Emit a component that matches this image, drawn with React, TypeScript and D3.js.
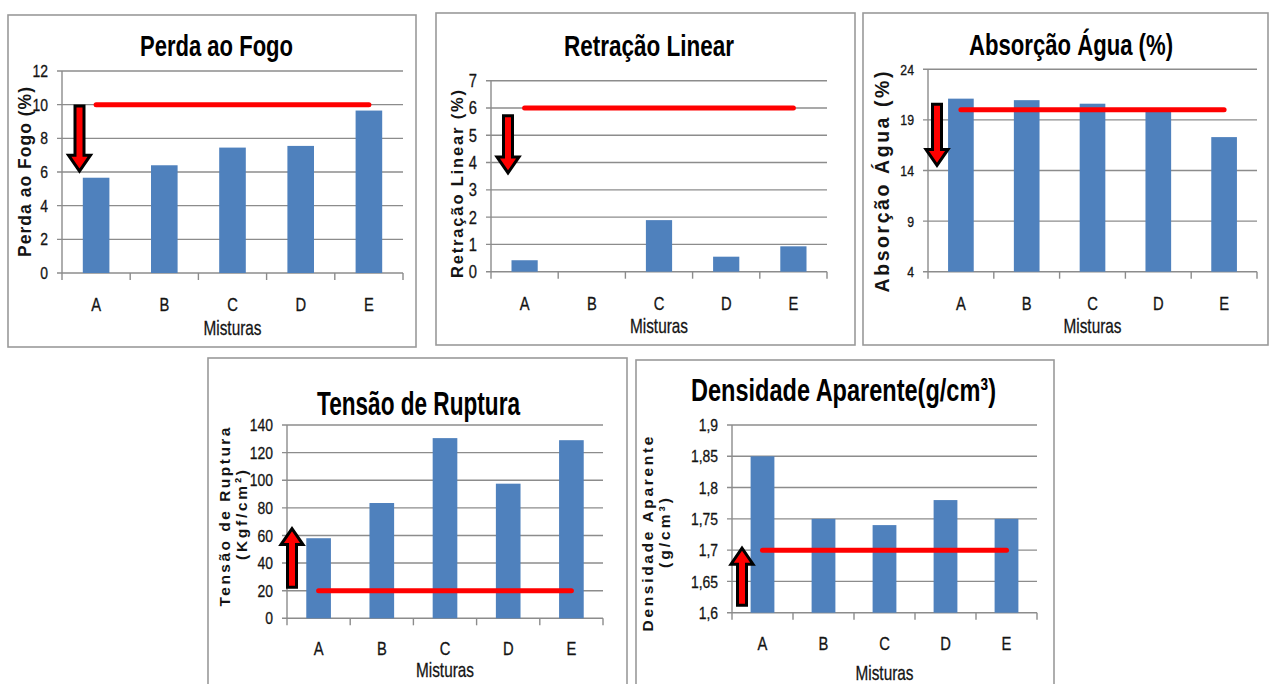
import React from 'react';
import * as d3 from 'd3';

// ---------- data ----------
const categories = ['A', 'B', 'C', 'D', 'E'];
const perdaFogo = [5.66, 6.4, 7.45, 7.55, 9.65];
const retracaoLinear = [0.42, 0, 1.89, 0.55, 0.93];
const absorcaoAgua = [21.1, 20.95, 20.6, 20.1, 17.3];
const tensaoRuptura = [58, 83.5, 130.5, 97.5, 129];
const densidadeAparente = [1.85, 1.75, 1.74, 1.78, 1.75];

const perdaTicks = [0, 2, 4, 6, 8, 10, 12];
const retracaoTicks = [0, 1, 2, 3, 4, 5, 6, 7];
const absorcaoTicks = [4, 9, 14, 19, 24];
const tensaoTicks = [0, 20, 40, 60, 80, 100, 120, 140];
const densidadeTicks = [1.6, 1.65, 1.7, 1.75, 1.8, 1.85, 1.9];

const limitValues = [10, 6, 20, 20, 1.7];
const arrowFrom = [9.92, 5.72, 20.55, 22.5, 1.612];
const arrowTo = [6.05, 3.62, 14.5, 65, 1.703];

const chartTitles = ['Perda ao Fogo', 'Retração Linear', 'Absorção Água (%)', 'Tensão de Ruptura', 'Densidade Aparente(g/cm³)'];
const yAxisTitles = [
  ['Perda ao  Fogo  (%)'],
  ['Retração  Linear  (%)'],
  ['Absorção Água (%)'],
  ['Tensão  de  Ruptura', '(Kgf/cm²)'],
  ['Densidade  Aparente', '(g/cm³)'],
];
const xAxisTitle = 'Misturas';

// ---------- layout ----------
const FONT = "'Liberation Sans', Arial, sans-serif";
const BLUE = '#4f81bd';
const GRID = '#8c8c8c';
const TXT = '#141414';

type Panel = {
  values: number[];
  ticks: number[];
  limit: number;
  aFrom: number;
  aTo: number;
  title: string;
  yTitle: string[];
  box: [number, number, number, number];
  plot: { x0: number; x1: number; yTop: number; yBot: number };
  titleX: number; titleY: number; titleW: number; titleSize: number;
  tickSize: number;
  arrowDx: number;
  yTitleX: number[]; yTitleLen: number[]; yTitleSize: number; yTitleCY: number[];
  catY: number; mistY: number;
  fmt: (v: number) => string;
};

const plain = (v: number) => String(v);
const comma = (v: number) => String(v).replace('.', ',');

const panels: Panel[] = [
  {
    values: perdaFogo, ticks: perdaTicks, limit: limitValues[0], aFrom: arrowFrom[0], aTo: arrowTo[0],
    title: chartTitles[0], yTitle: yAxisTitles[0],
    box: [8, 15, 416, 347], plot: { x0: 62, x1: 403, yTop: 71, yBot: 273 },
    titleX: 216.5, titleY: 56, titleW: 153, titleSize: 30, tickSize: 17, arrowDx: 17.5,
    yTitleX: [30.5], yTitleLen: [170], yTitleSize: 17.5, yTitleCY: [172],
    catY: 311, mistY: 335, fmt: plain,
  },
  {
    values: retracaoLinear, ticks: retracaoTicks, limit: limitValues[1], aFrom: arrowFrom[1], aTo: arrowTo[1],
    title: chartTitles[1], yTitle: yAxisTitles[1],
    box: [436, 13, 855, 345], plot: { x0: 491, x1: 827, yTop: 80.7, yBot: 271.7 },
    titleX: 649, titleY: 56, titleW: 170, titleSize: 30, tickSize: 18, arrowDx: 17,
    yTitleX: [463], yTitleLen: [188], yTitleSize: 16.5, yTitleCY: [184],
    catY: 310, mistY: 333, fmt: plain,
  },
  {
    values: absorcaoAgua, ticks: absorcaoTicks, limit: limitValues[2], aFrom: arrowFrom[2], aTo: arrowTo[2],
    title: chartTitles[2], yTitle: yAxisTitles[2],
    box: [863, 13, 1268, 345], plot: { x0: 928, x1: 1257, yTop: 69.3, yBot: 271.7 },
    titleX: 1071, titleY: 55, titleW: 204, titleSize: 30, tickSize: 15, arrowDx: 9,
    yTitleX: [889], yTitleLen: [221], yTitleSize: 19.5, yTitleCY: [182],
    catY: 310, mistY: 333, fmt: plain,
  },
  {
    values: tensaoRuptura, ticks: tensaoTicks, limit: limitValues[3], aFrom: arrowFrom[3], aTo: arrowTo[3],
    title: chartTitles[3], yTitle: yAxisTitles[3],
    box: [208, 358, 627, 700], plot: { x0: 287, x1: 603, yTop: 425, yBot: 618.3 },
    titleX: 418.5, titleY: 415, titleW: 203, titleSize: 33, tickSize: 17, arrowDx: 5,
    yTitleX: [230, 246.5], yTitleLen: [179, 90], yTitleSize: 15.5, yTitleCY: [517, 515],
    catY: 655, mistY: 677, fmt: plain,
  },
  {
    values: densidadeAparente, ticks: densidadeTicks, limit: limitValues[4], aFrom: arrowFrom[4], aTo: arrowTo[4],
    title: chartTitles[4], yTitle: yAxisTitles[4],
    box: [636, 360, 1054, 700], plot: { x0: 732, x1: 1037, yTop: 425, yBot: 612.7 },
    titleX: 843.5, titleY: 401, titleW: 305, titleSize: 32, tickSize: 17, arrowDx: 10,
    yTitleX: [653, 670], yTitleLen: [195, 70], yTitleSize: 15.5, yTitleCY: [534, 533],
    catY: 650, mistY: 680, fmt: comma,
  },
];

function arrowPath(cx: number, yTail: number, yTip: number) {
  const hw = 4.5, HW = 11, headLen = 16;
  const d = yTip > yTail ? 1 : -1;
  const yb = yTip - d * headLen;
  return `M${cx - hw},${yTail}L${cx + hw},${yTail}L${cx + hw},${yb}L${cx + HW},${yb}L${cx},${yTip}L${cx - HW},${yb}L${cx - hw},${yb}Z`;
}

function ChartPanel({ p }: { p: Panel }) {
  const { plot } = p;
  const x = d3.scaleBand<string>().domain(categories).range([plot.x0, plot.x1]).paddingInner(0).paddingOuter(0);
  const y = d3.scaleLinear().domain([p.ticks[0], p.ticks[p.ticks.length - 1]]).range([plot.yBot, plot.yTop]);
  const bw = x.bandwidth() * 0.39;
  const cx = (c: string) => (x(c) as number) + x.bandwidth() / 2;
  const boundaries = categories.map((c) => x(c) as number).concat([plot.x1]);
  const [bx0, by0, bx1, by1] = p.box;
  const plotCenter = (plot.x0 + plot.x1) / 2;
  return (
    <g>
      <rect x={bx0} y={by0} width={bx1 - bx0} height={by1 - by0} fill="#fff" stroke="#9a9a9a" strokeWidth={1.6} />
      <text x={p.titleX} y={p.titleY} textAnchor="middle" fontFamily={FONT} fontWeight="bold" fontSize={p.titleSize}
        fill="#000" textLength={p.titleW} lengthAdjust="spacingAndGlyphs">{p.title}</text>
      {/* gridlines */}
      {p.ticks.map((t) => (
        <line key={'g' + t} x1={plot.x0 - 5} x2={plot.x1} y1={y(t)} y2={y(t)} stroke={GRID} strokeWidth={1.4} />
      ))}
      {/* y axis */}
      <line x1={plot.x0} x2={plot.x0} y1={plot.yTop} y2={plot.yBot} stroke={GRID} strokeWidth={1.4} />
      {/* x tick marks */}
      {boundaries.map((b, i) => (
        <line key={'t' + i} x1={b} x2={b} y1={plot.yBot} y2={plot.yBot + 7} stroke={GRID} strokeWidth={1.4} />
      ))}
      {/* tick labels */}
      {p.ticks.map((t) => (
        <text key={'l' + t} transform={`translate(${plot.x0 - 14},${y(t) + p.tickSize * 0.36}) scale(0.82,1)`}
          textAnchor="end" fontFamily={FONT} fontSize={p.tickSize} fill={TXT} stroke={TXT} strokeWidth={0.3}>{p.fmt(t)}</text>
      ))}
      {/* bars */}
      {categories.map((c, i) => (
        <rect key={'b' + c} x={cx(c) - bw / 2} y={y(p.values[i])} width={bw}
          height={Math.max(0, y(p.ticks[0]) - y(p.values[i]))} fill={BLUE} />
      ))}
      {/* limit line */}
      <line x1={cx(categories[0])} x2={cx(categories[categories.length - 1])} y1={y(p.limit)} y2={y(p.limit)}
        stroke="#ff0000" strokeWidth={5} strokeLinecap="round" />
      {/* arrow */}
      <path d={arrowPath(plot.x0 + p.arrowDx, y(p.aFrom), y(p.aTo))} fill="#ff0000" stroke="#000"
        strokeWidth={3} strokeLinejoin="miter" />
      {/* category labels */}
      {categories.map((c) => (
        <text key={'c' + c} transform={`translate(${cx(c)},${p.catY}) scale(0.82,1)`} textAnchor="middle"
          fontFamily={FONT} fontSize={18} fill={TXT} stroke={TXT} strokeWidth={0.3}>{c}</text>
      ))}
      <text x={plotCenter} y={p.mistY} textAnchor="middle" fontFamily={FONT} fontSize={21} fill={TXT}
        stroke={TXT} strokeWidth={0.3} textLength={58} lengthAdjust="spacingAndGlyphs">{xAxisTitle}</text>
      {/* y axis title */}
      {p.yTitle.map((t, i) => (
        <text key={'y' + i} transform={`translate(${p.yTitleX[i]},${p.yTitleCY[i]}) rotate(-90)`} textAnchor="middle"
          fontFamily={FONT} fontWeight="bold" fontSize={p.yTitleSize} fill={TXT}
          textLength={p.yTitleLen[i]} lengthAdjust="spacing">{t}</text>
      ))}
    </g>
  );
}

export default function App() {
  return (
    <svg width={1270} height={684} viewBox="0 0 1270 684"
      style={{ position: 'absolute', left: 0, top: 0, display: 'block', background: '#fff' }}>
      <rect x={0} y={0} width={1270} height={684} fill="#fff" />
      {panels.map((p, i) => <ChartPanel key={i} p={p} />)}
    </svg>
  );
}
